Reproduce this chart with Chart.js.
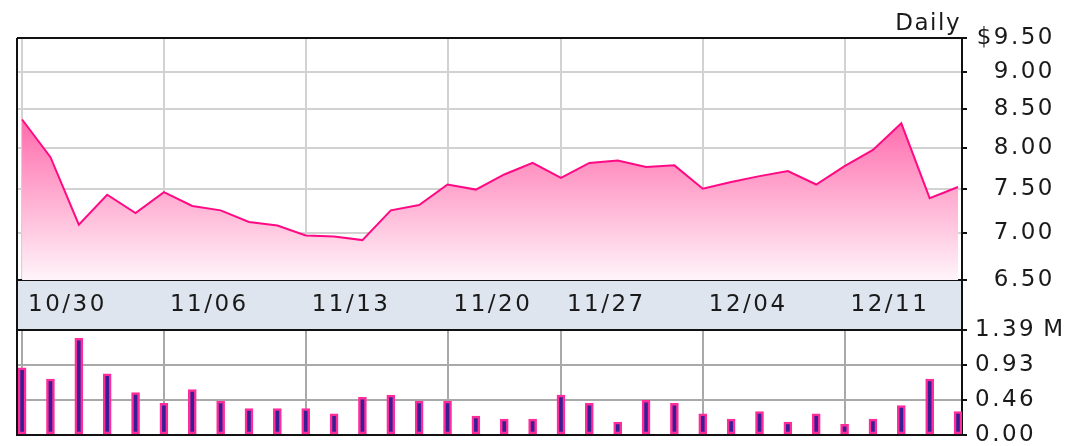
<!DOCTYPE html>
<html>
<head>
<meta charset="utf-8">
<title>Daily price and volume</title>
<script src="https://cdn.jsdelivr.net/npm/chart.js@4.4.1/dist/chart.umd.min.js"></script>
<style>
  body { margin: 0; background: #fff; }
  #wrap { position: relative; width: 1084px; height: 446px; }
  #price { position: absolute; left: 0; top: 0; }
  #volume { position: absolute; left: 0; top: 300px; }
</style>
</head>
<body>
<div id="wrap">
  <canvas id="price" width="1084" height="330"></canvas>
  <canvas id="volume" width="1084" height="146"></canvas>
</div>
<script>
// trading days on the chart (Thanksgiving 11/23 missing)
const days = ['10/30','10/31','11/01','11/02','11/03',
  '11/06','11/07','11/08','11/09','11/10',
  '11/13','11/14','11/15','11/16','11/17',
  '11/20','11/21','11/22','11/24',
  '11/27','11/28','11/29','11/30','12/01',
  '12/04','12/05','12/06','12/07','12/08',
  '12/11','12/12','12/13','12/14','12/15'];

// closing price, $
const closePrice = [8.36, 7.88, 7.09, 7.43, 7.22,
  7.46, 7.30, 7.25, 7.12, 7.08,
  6.97, 6.96, 6.92, 7.25, 7.31,
  7.55, 7.49, 7.67, 7.81,
  7.63, 7.81, 7.84, 7.76, 7.78,
  7.50, 7.58, 7.65, 7.71, 7.55,
  7.77, 7.97, 8.31, 7.39, 7.52];

// volume, millions of shares
const volumeM = [0.89, 0.74, 1.28, 0.81, 0.56,
  0.42, 0.60, 0.45, 0.35, 0.35,
  0.35, 0.28, 0.50, 0.53, 0.45,
  0.45, 0.25, 0.21, 0.21,
  0.53, 0.42, 0.17, 0.46, 0.42,
  0.28, 0.21, 0.31, 0.17, 0.28,
  0.14, 0.21, 0.39, 0.74, 0.31];

const weekLabels = ['10/30','11/06','11/13','11/20','11/27','12/04','12/11'];
const priceTicks = [6.5, 7, 7.5, 8, 8.5, 9, 9.5];
const volumeTicks = [0, 0.46, 0.93, 1.39];

const weekIdx = weekLabels.map(d => days.indexOf(d));
const font = { family: '"DejaVu Sans", Verdana, sans-serif', size: 23 };
const textColor = '#1a1a1a';
const frameColor = '#111';

const spacing = {
  id: 'spacing',
  beforeDraw(chart) { chart.ctx.letterSpacing = '2.5px'; }
};

const priceFrame = {
  id: 'priceFrame',
  beforeDraw(chart) {
    const { ctx, chartArea: a } = chart;
    ctx.save();
    ctx.fillStyle = '#dfe5ef';
    ctx.fillRect(a.left, a.bottom, a.right - a.left, 50);
    ctx.restore();
  },
  afterDraw(chart) {
    const { ctx, chartArea: a } = chart;
    ctx.save();
    ctx.strokeStyle = frameColor;
    ctx.lineWidth = 2;
    ctx.beginPath();
    ctx.moveTo(a.left, a.top); ctx.lineTo(a.right, a.top);
    ctx.moveTo(a.left, a.top); ctx.lineTo(a.left, a.bottom + 50);
    ctx.moveTo(a.right, a.bottom); ctx.lineTo(a.right, a.bottom + 50);
    ctx.stroke();
    ctx.letterSpacing = '1.5px';
    ctx.font = '23px "DejaVu Sans"';
    ctx.fillStyle = textColor;
    ctx.textAlign = 'right';
    ctx.textBaseline = 'alphabetic';
    ctx.fillText('Daily', a.right - 1, a.top - 8);
    ctx.restore();
  }
};

const volFrame = {
  id: 'volFrame',
  afterDraw(chart) {
    const { ctx, chartArea: a } = chart;
    ctx.save();
    ctx.strokeStyle = frameColor;
    ctx.lineWidth = 2;
    ctx.beginPath();
    ctx.moveTo(a.left, a.top); ctx.lineTo(a.right, a.top);
    ctx.moveTo(a.left, a.top); ctx.lineTo(a.left, a.bottom);
    ctx.stroke();
    ctx.restore();
  }
};

function xAxis(showLabels, gridColor) {
  return {
    type: 'linear',
    min: -0.18,
    max: 33.14,
    offset: false,
    afterBuildTicks: s => { s.ticks = weekIdx.map(v => ({ value: v })); },
    afterFit: s => { s.height = showLabels ? 50 : 0; },
    grid: { color: gridColor, lineWidth: 2, drawTicks: false, offset: false },
    border: { color: frameColor, width: 2 },
    ticks: {
      display: showLabels,
      autoSkip: false,
      maxRotation: 0,
      align: 'start',
      labelOffset: 6,
      padding: 11,
      font: font,
      color: textColor,
      callback: v => days[v]
    }
  };
}

new Chart(document.getElementById('price'), {
  type: 'line',
  data: {
    datasets: [{
      data: closePrice.map((v, i) => ({ x: i, y: v })),
      borderColor: '#ff0a84',
      borderWidth: 2,
      pointRadius: 0,
      tension: 0,
      fill: 'start',
      backgroundColor: c => {
        const a = c.chart.chartArea;
        if (!a) return 'rgba(255,100,170,0.5)';
        const g = c.chart.ctx.createLinearGradient(0, 100, 0, a.bottom + 12);
        g.addColorStop(0, '#ff5aa3');
        g.addColorStop(1, '#ffffff');
        return g;
      }
    }]
  },
  options: {
    responsive: false,
    animation: false,
    devicePixelRatio: 1,
    layout: { padding: { left: 17, top: 38, right: 29, bottom: 0 } },
    plugins: { legend: { display: false }, tooltip: { enabled: false } },
    scales: {
      x: xAxis(true, '#d2d2d2'),
      y: {
        type: 'logarithmic',
        position: 'right',
        min: 6.5,
        max: 9.5,
        afterBuildTicks: s => { s.ticks = priceTicks.map(v => ({ value: v })); },
        afterFit: s => { s.width = 93; },
        grid: { color: '#d2d2d2', lineWidth: 2, tickColor: frameColor, tickLength: 5, tickWidth: 2 },
        border: { color: frameColor, width: 2 },
        ticks: {
          crossAlign: 'far',
          font: font,
          color: textColor,
          callback: v => (v === 9.5 ? '$' : '') + v.toFixed(2)
        }
      }
    }
  },
  plugins: [spacing, priceFrame]
});

new Chart(document.getElementById('volume'), {
  type: 'bar',
  data: {
    datasets: [{
      data: volumeM.map((v, i) => ({ x: i, y: v })),
      backgroundColor: '#3b1d93',
      borderColor: '#ff2d9b',
      borderWidth: 2.5,
      borderSkipped: false,
      barThickness: 8
    }]
  },
  options: {
    responsive: false,
    animation: false,
    devicePixelRatio: 1,
    layout: { padding: { left: 17, top: 30, right: 0, bottom: 11 } },
    plugins: { legend: { display: false }, tooltip: { enabled: false } },
    scales: {
      x: xAxis(false, '#a9a9a9'),
      y: {
        position: 'right',
        min: 0,
        max: 1.39,
        afterBuildTicks: s => { s.ticks = volumeTicks.map(v => ({ value: v })); },
        afterFit: s => { s.width = 122; s.paddingTop = 0; s.paddingBottom = 0; },
        grid: { color: '#a9a9a9', lineWidth: 2, tickColor: frameColor, tickLength: 5, tickWidth: 2 },
        border: { color: frameColor, width: 2 },
        ticks: {
          crossAlign: 'near',
          padding: 8,
          font: font,
          color: textColor,
          callback: v => v.toFixed(2) + (v === 1.39 ? '\u2009M' : '')
        }
      }
    }
  },
  plugins: [spacing, volFrame]
});
</script>
</body>
</html>
